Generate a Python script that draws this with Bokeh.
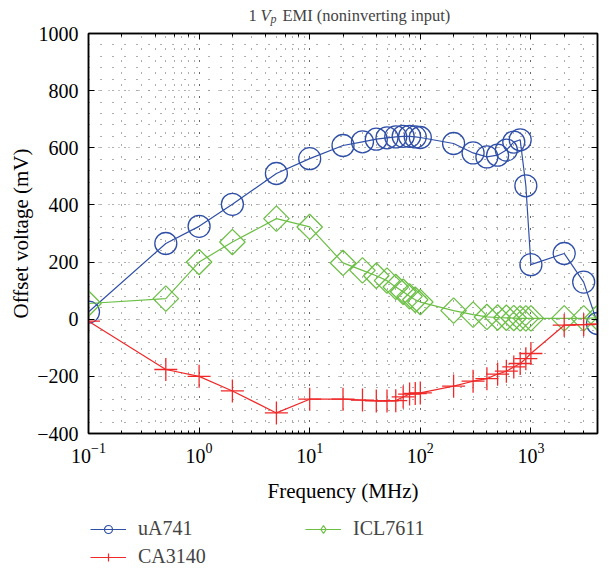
from bokeh.plotting import figure
from bokeh.layouts import column
from bokeh.models import (LogAxis, LinearAxis, Legend, LegendItem, ColumnDataSource,
                          Label, SingleIntervalTicker, LogTicker)
from bokeh.embed import file_html
from bokeh.resources import INLINE
import math

freq = [0.1, 0.5, 1, 2, 5, 10, 20, 30, 40, 50, 60, 70, 80, 90, 100,
        200, 300, 400, 500, 600, 700, 800, 900, 1000, 2000, 3000, 4000]
ua741 = [25, 265, 325, 402, 510, 562, 608, 621, 630, 635, 638, 640, 640, 638, 636,
         615, 582, 568, 574, 592, 620, 628, 467, 191, 230, 130, -15]
ca3140 = [-7, -176, -200, -251, -328, -280, -280, -283, -286, -286, -285, -272, -262, -260, -258,
          -234, -217, -208, -192, -182, -167, -155, -138, -120, -21, -19, -17]
icl7611 = [55, 72, 200, 270, 352, 323, 197, 171, 152, 135, 113, 96, 80, 68, 60,
           30, 16, 8, 6, 5, 4, 3, 3, 3, 3, 3, 5]
series_names = ["uA741", "CA3140", "ICL7611"]
title_parts = ["1", "V", "p", "EMI (noninverting input)"]

BLUE = "#3050A8"
RED = "#F02828"
GREEN = "#6CBF45"
FONT = "Liberation Serif"
W = 604
FL, FR = 88, 597  # frame left/right in page pixels (shared by the stacked figures)
TH = 26           # title strip height

# ---------- title strip ----------
t = figure(width=W, height=TH, x_range=(FL, FR), y_range=(0, TH), output_backend="svg",
           toolbar_location=None, x_axis_location=None, y_axis_location=None,
           min_border=0, min_border_left=FL, min_border_right=W - FR, outline_line_color=None)
t.grid.visible = False
t.add_layout(Label(x=248, y=11.5, text=title_parts[0], text_font=FONT, text_font_size="16.5px",
                   text_baseline="alphabetic"))
t.add_layout(Label(x=260, y=11.5, text=title_parts[1], text_font=FONT, text_font_size="16.5px",
                   text_font_style="italic", text_baseline="alphabetic"))
t.add_layout(Label(x=270, y=8, text=title_parts[2], text_font=FONT, text_font_size="12px",
                   text_font_style="italic", text_baseline="alphabetic"))
t.add_layout(Label(x=282, y=11.5, text=title_parts[3], text_font=FONT, text_font_size="16.5px",
                   text_baseline="alphabetic"))

# ---------- main plot ----------
p = figure(width=W, height=484, x_axis_type="log", x_range=(0.1, 4000), y_range=(-400, 1000),
           output_backend="svg", toolbar_location=None,
           min_border_left=FL, min_border_right=W - FR, min_border_top=33 - TH, min_border_bottom=77)
p.outline_line_color = "black"
p.outline_line_width = 1.5

src = ColumnDataSource(dict(f=freq, a=ua741, c=ca3140, i=icl7611))

p.line("f", "a", source=src, color=BLUE, line_width=1.2)
p.scatter("f", "a", source=src, marker="circle", size=22, fill_color=None, line_color=BLUE, line_width=1.3)
p.line("f", "i", source=src, color=GREEN, line_width=1.2)
p.scatter("f", "i", source=src, marker="square", angle=math.pi / 4, size=18, fill_color=None,
          line_color=GREEN, line_width=1.3)
p.line("f", "c", source=src, color=RED, line_width=1.2)
p.scatter("f", "c", source=src, marker="cross", size=23, line_color=RED, line_width=1.3)

p.yaxis.ticker = SingleIntervalTicker(interval=200, num_minor_ticks=5)
for ax in [p.xaxis[0], p.yaxis[0]]:
    ax.major_tick_in = 6
    ax.major_tick_out = 0
    ax.minor_tick_out = 0
    ax.axis_line_width = 1.5
    ax.major_label_text_font = FONT
    ax.major_label_text_font_size = "20px"
    ax.major_label_text_color = "black"
    ax.axis_label_text_font = FONT
    ax.axis_label_text_font_size = "21px"
    ax.axis_label_text_font_style = "normal"
    ax.axis_label_text_color = "black"
p.yaxis.major_label_text_line_height = 0.9
p.xaxis.minor_tick_in = 3
p.yaxis.minor_tick_in = 0
p.yaxis.major_label_standoff = 10
p.xaxis.major_label_standoff = 9
p.xaxis.axis_label = "Frequency (MHz)"
p.yaxis.axis_label = "Offset voltage (mV)"
p.xaxis.axis_label_standoff = 13
p.yaxis.axis_label_standoff = 1

top = LogAxis(ticker=LogTicker(), major_label_text_color=None, major_tick_in=6, major_tick_out=0,
              minor_tick_in=3, minor_tick_out=0, axis_line_width=1.5)
right = LinearAxis(ticker=SingleIntervalTicker(interval=200, num_minor_ticks=5), major_label_text_color=None,
                   major_tick_in=6, major_tick_out=0, minor_tick_in=0, minor_tick_out=0, axis_line_width=1.5)
p.add_layout(top, "above")
p.add_layout(right, "right")

p.xgrid.grid_line_color = "#555555"
p.xgrid.grid_line_dash = "1 11"
p.xgrid.minor_grid_line_color = "#333333"
p.xgrid.minor_grid_line_dash = "1 11"
p.xgrid.minor_grid_line_alpha = 0.8
p.ygrid.grid_line_color = "#888888"
p.ygrid.grid_line_dash = "1 9"
p.ygrid.minor_grid_line_color = "#333333"
p.ygrid.minor_grid_line_dash = "1 11"
p.ygrid.minor_grid_line_alpha = 0.8

# ---------- legend strip ----------
lg = figure(width=W, height=58, x_range=(FL, FR), y_range=(0, 58), output_backend="svg",
            toolbar_location=None, x_axis_location=None, y_axis_location=None,
            min_border=0, min_border_left=FL, min_border_right=W - FR, outline_line_color=None)
lg.grid.visible = False
lsrc = ColumnDataSource(dict(x=[-1000], y=[-1000]))
ga1 = lg.line("x", "y", source=lsrc, color=BLUE, line_width=1.2)
ga2 = lg.scatter("x", "y", source=lsrc, marker="circle", size=10, fill_color=None, line_color=BLUE, line_width=1.2)
gc1 = lg.line("x", "y", source=lsrc, color=RED, line_width=1.2)
gc2 = lg.scatter("x", "y", source=lsrc, marker="cross", size=12, line_color=RED, line_width=1.2)
gi1 = lg.line("x", "y", source=lsrc, color=GREEN, line_width=1.2)
gi2 = lg.scatter("x", "y", source=lsrc, marker="diamond", size=14, fill_color=None,
                 line_color=GREEN, line_width=1.2)
legend = Legend(items=[LegendItem(label=series_names[0], renderers=[ga1, ga2]),
                       LegendItem(label=series_names[2], renderers=[gi1, gi2]),
                       LegendItem(label=series_names[1], renderers=[gc1, gc2])],
                orientation="horizontal", ncols=2, location=(2, 0),
                label_text_font=FONT, label_text_font_size="20px", label_height=20,
                glyph_width=36, glyph_height=20, label_standoff=12, label_width=162,
                spacing=5, padding=0, margin=0, border_line_color=None,
                background_fill_alpha=0)
lg.add_layout(legend, "center")

layout = column(t, p, lg, spacing=0)
open("out.html", "w").write(file_html(layout, INLINE))
